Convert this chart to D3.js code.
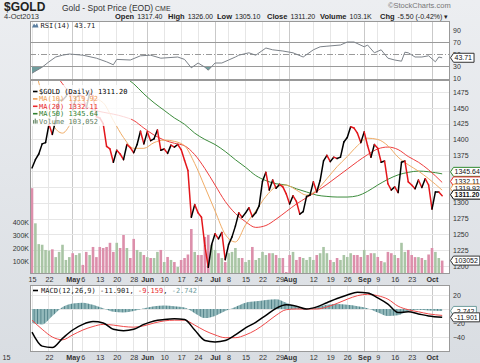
<!DOCTYPE html>
<html>
<head>
<meta charset="utf-8">
<script src="https://cdn.jsdelivr.net/npm/d3@7"></script>
<style>
  body { margin: 0; background: #e2e5e9; }
  svg text { font-family: "Liberation Sans", Arial, sans-serif; }
  .mono { font-family: "DejaVu Sans Mono", monospace; }
</style>
</head>
<body>
<svg id="chart"></svg>
<script>
// ---- data (trading-day index 0 = 15 Apr 2013 ... 121 = 4 Oct 2013) ----
const closes = [1355,1368,1377,1393,1395,1424,1408,1431,1462,1462,
  1468,1476,1447,1467,1470,1468,1449,1473,1469,1436,
  1434,1425,1389,1385,1364,1383,1377,1368,1392,1387,
  1379,1392,1413,1393,1412,1398,1401,1415,1383,1385,
  1378,1391,1388,1392,1384,1367,1351,1277,1297,1284,
  1277,1232,1198,1234,1251,1243,1253,1210,1234,1246,
  1263,1284,1277,1284,1292,1278,1284,1295,1334,1348,
  1320,1336,1323,1329,1325,1314,1298,1311,1302,1282,
  1286,1310,1312,1333,1317,1335,1366,1375,1365,1372,
  1370,1372,1396,1403,1420,1418,1410,1395,1412,1390,
  1372,1392,1386,1364,1366,1330,1320,1325,1316,1364,
  1366,1333,1328,1322,1336,1324,1338,1328,1290,1317,
  1317,1311.2];
// volume in thousands
const volumes = [660,390,230,225,185,180,190,130,170,225,
  108,130,160,146,160,70,170,146,208,130,
  208,200,208,240,170,240,200,300,200,123,
  270,185,170,146,130,123,123,170,185,92,
  131,108,92,54,108,123,150,346,170,146,
  146,285,300,223,185,160,123,92,160,170,
  200,123,123,92,108,208,108,123,170,146,
  160,160,146,123,123,15,146,170,108,131,
  123,108,131,108,146,160,208,160,108,92,
  123,108,146,131,160,146,146,131,185,146,
  160,160,131,100,90,170,160,146,123,240,
  170,185,146,130,130,123,108,150,200,170,
  123,103.052];

// smooth indicator series read at these day indices
const smp = [0,3,6,9,12,15,18,21,24,27,30,33,36,39,42,45,48,51,54,57,
  60,63,66,69,72,75,78,81,84,87,90,93,96,99,102,105,108,111,114,117,121];
const ma10 = [1535,1470,1425,1410,1430,1452,1465,1458,1430,1403,1386,1386,1395,1399,1397,1390,1362,1325,1287,1250,
  1238,1265,1287,1310,1325,1328,1320,1312,1320,1338,1357,1373,1390,1402,1400,1390,1372,1360,1350,1338,1319.92];
const ma20 = [1550,1532,1510,1488,1468,1455,1447,1443,1440,1436,1430,1418,1407,1399,1394,1390,1376,1354,1328,1302,
  1283,1270,1261,1264,1274,1286,1298,1308,1318,1329,1341,1353,1365,1376,1385,1388,1384,1373,1364,1352,1332.11];
const ma50 = [1590,1582,1575,1565,1555,1545,1534,1523,1512,1500,1488,1472,1458,1446,1434,1424,1410,1400,1392,1381,
  1368,1356,1343,1335,1330,1328,1322,1317,1312,1310,1309,1309,1311,1318,1328,1337,1344,1348,1350,1349,1345.64];
const macd = [-33,-53,-55,-42,-30,-22,-18,-20,-29,-31,-29,-22,-17,-15,-14,-15,-30,-45,-47,-45,
  -37,-27,-19,-9,1,6,4,0,3,9,15,20,24,23,16,7,-5,-4,-7,-10,-11.901];
const signal = [-16,-29,-40,-44,-37,-30,-25,-22,-23,-25,-26,-24,-20,-17,-16,-16,-23,-31,-37,-41,
  -41,-37,-30,-20,-9,-1,0,0,0,3,8,14,19,21,19,14,4,-1,-4,-7,-9.159];
const hist = [-20,-22,-10,3,8,9,6,1,-4,-5,-3,1,4,5,4,2,-6,-13,-10,-3,
  3,9,11,13,14,9,3,0,3,6,7,6,4,1,-5,-10,-9,-3,-1,-2,-2.742];

const rsiIdx = [0,3,5,7,9,11,15,19,22,24,25,29,32,35,38,43,45,47,49,51,
  52,54,56,58,60,61,64,66,69,71,74,77,80,83,85,87,91,93,95,98,
  99,101,103,105,107,109,110,111,113,115,117,119,120,121];
const rsi = [18,28,37,45,48,50,48,43,37,32,41,40,47,48,43,45,41,27,35,28,
  23,35,35,40,45,48,52,48,60,57,55,52,45,57,62,63,65,70,70,62,
  65,52,57,43,40,38,53,52,45,45,47,37,45,43.71];

const tickIdx = [0,5,12,15,20,25,30,34,39,44,49,54,58,63,68,73,76,83,88,93,98,102,107,112,118];
const tickText = ["15","22","May","6","13","20","28","Jun","10","17","24","Jul","8","15","22","29","Aug","12","19","26","Sep","9","16","23","Oct"];
const monthTicks = ["May","Jun","Jul","Aug","Sep","Oct"];
const priceTicks = [1200,1225,1250,1275,1300,1325,1350,1375,1400,1425,1450,1475];
const volTicks = [100,200,300,400];
const rsiTicks = [10,30,50,70,90];
const macdTicks = [20,0,-20,-40];

// ---- layout ----
const W = 480, H = 363;
const L = 30, R = 450;
const rsiTop = 21, rsiBot = 80, mainTop = 80, mainBot = 274, macdTop = 285, macdBot = 352;

const svg = d3.select('#chart').attr('width', W).attr('height', H);
const defs = svg.append('defs');

const bg = defs.append('linearGradient').attr('id', 'bg').attr('x1', 0).attr('y1', 0).attr('x2', 0).attr('y2', 1);
bg.append('stop').attr('offset', '0%').attr('stop-color', '#eceef1');
bg.append('stop').attr('offset', '100%').attr('stop-color', '#d9dde2');
svg.append('rect').attr('width', W).attr('height', H).attr('fill', 'url(#bg)');

const x = d3.scaleLinear().domain([0, 118]).range([32, 432]);
const yP = d3.scaleLinear().domain([1200, 1475]).range([266, 92]);
const yV = d3.scaleLinear().domain([0, 400]).range([mainBot, 222]);
const yR = d3.scaleLinear().domain([0, 100]).range([84, 24]);
const yM = d3.scaleLinear().domain([-40, 20]).range([337, 295]);

function clip(id, top, bot) {
  defs.append('clipPath').attr('id', id).append('rect')
    .attr('x', L).attr('y', top).attr('width', R - L).attr('height', bot - top);
}
clip('cRsi', rsiTop, rsiBot);
clip('cMain', mainTop, mainBot);
clip('cMacd', macdTop, macdBot);

function panelBg(top, bot) {
  svg.append('rect').attr('x', L).attr('y', top).attr('width', R - L).attr('height', bot - top)
    .attr('fill', '#fff');
}
panelBg(rsiTop, rsiBot);
panelBg(mainTop, mainBot);
panelBg(macdTop, macdBot);

function vGrid(top, bot) {
  svg.append('g').selectAll('line').data(tickIdx).join('line')
    .attr('x1', d => x(d)).attr('x2', d => x(d)).attr('y1', top).attr('y2', bot)
    .attr('stroke', (d, i) => monthTicks.includes(tickText[i]) ? '#c9c9c9' : '#e6e6e6')
    .attr('stroke-width', 1).attr('shape-rendering', 'crispEdges');
}
vGrid(rsiTop, rsiBot);
vGrid(mainTop, mainBot);
vGrid(macdTop, macdBot);

function hGrid(scale, vals, col) {
  svg.append('g').selectAll('line').data(vals).join('line')
    .attr('x1', L).attr('x2', R).attr('y1', d => Math.round(scale(d)) + 0.5).attr('y2', d => Math.round(scale(d)) + 0.5)
    .attr('stroke', col);
}
hGrid(yP, priceTicks, '#e6e6e6');
hGrid(yM, macdTicks, '#e6e6e6');

// ---- RSI panel ----
const gR = svg.append('g').attr('clip-path', 'url(#cRsi)');
const rsiPts = rsiIdx.map((d, i) => [d, rsi[i]]);
defs.append('clipPath').attr('id', 'cLow').append('rect').attr('x', L).attr('y', yR(30)).attr('width', R - L).attr('height', 30);
defs.append('clipPath').attr('id', 'cHigh').append('rect').attr('x', L).attr('y', 0).attr('width', R - L).attr('height', yR(70));
gR.append('path').datum(rsiPts).attr('clip-path', 'url(#cLow)')
  .attr('d', d3.area().x(d => x(d[0])).y0(yR(30)).y1(d => yR(d[1])))
  .attr('fill', '#6f9d9d');
gR.append('path').datum(rsiPts).attr('clip-path', 'url(#cHigh)')
  .attr('d', d3.area().x(d => x(d[0])).y0(yR(70)).y1(d => yR(d[1])))
  .attr('fill', '#6f9d9d');
[70, 30].forEach(v => gR.append('line').attr('x1', L).attr('x2', R)
  .attr('y1', Math.round(yR(v)) + 0.5).attr('y2', Math.round(yR(v)) + 0.5).attr('stroke', '#9a9a9a'));
gR.append('line').attr('x1', L).attr('x2', R).attr('y1', Math.round(yR(50)) + 0.5).attr('y2', Math.round(yR(50)) + 0.5)
  .attr('stroke', '#9a9a9a').attr('stroke-dasharray', '6,2,1,2');
gR.append('path').datum(rsiPts)
  .attr('d', d3.line().x(d => x(d[0])).y(d => yR(d[1])))
  .attr('fill', 'none').attr('stroke', '#7c8289').attr('stroke-width', 1);

// ---- main panel ----
const gM = svg.append('g').attr('clip-path', 'url(#cMain)');
gM.selectAll('rect.vol').data(volumes).join('rect')
  .attr('x', (d, i) => x(i) - 1.3).attr('width', 2.6)
  .attr('y', d => yV(d)).attr('height', d => mainBot - yV(d))
  .attr('fill', (d, i) => (i > 0 && closes[i] >= closes[i - 1]) ? '#a9c5a5' : '#dc8fab');

const smLine = arr => d3.line().curve(d3.curveMonotoneX).x((d, i) => x(smp[i])).y(d => yP(d))(arr);
gM.append('path').attr('d', smLine(ma50)).attr('fill', 'none').attr('stroke', '#3c8c3c').attr('stroke-width', 1);
gM.append('path').attr('d', smLine(ma20)).attr('fill', 'none').attr('stroke', '#ee3e3e').attr('stroke-width', 1);
gM.append('path').attr('d', smLine(ma10)).attr('fill', 'none').attr('stroke', '#f0ac66').attr('stroke-width', 1);

gM.selectAll('line.seg').data(d3.range(1, closes.length)).join('line')
  .attr('x1', i => x(i - 1)).attr('y1', i => yP(closes[i - 1]))
  .attr('x2', i => x(i)).attr('y2', i => yP(closes[i]))
  .attr('stroke', i => closes[i] >= closes[i - 1] ? '#000' : '#e3161b')
  .attr('stroke-width', 1.5).attr('stroke-linecap', 'round');

// legend in main panel
svg.append('rect').attr('x', 31).attr('y', 85).attr('width', 100).attr('height', 41)
  .attr('fill', '#fff').attr('opacity', 0.8);
const leg = [
  ['$GOLD (Daily) 1311.20', '#000'],
  ['MA(10) 1319.92', '#ef9f55'],
  ['MA(20) 1332.11', '#e8282c'],
  ['MA(50) 1345.64', '#2f7f2f'],
  ['Volume 103,052', '#5f7f5f']
];
leg.forEach((l, i) => {
  const yy = 94 + i * 7.4;
  if (i < 4) {
    svg.append('line').attr('x1', 33).attr('x2', 37.5).attr('y1', yy - 2.5).attr('y2', yy - 2.5)
      .attr('stroke', l[1]).attr('stroke-width', 1.6);
  } else {
    [0, 1.7, 3.4].forEach((o, k) => svg.append('rect').attr('x', 33 + o).attr('y', yy - 5 + (k === 1 ? 0 : 1.5))
      .attr('width', 1.2).attr('height', k === 1 ? 5 : 3.5).attr('fill', '#6f8f6f'));
  }
  svg.append('text').attr('class', 'mono').attr('x', 39).attr('y', yy).attr('font-size', 7)
    .attr('fill', l[1]).text(l[0]);
});

// RSI legend
svg.append('path').attr('d', 'M32,27.5 L34,23.5 L35.5,25.5 L37,23 L38.5,27.5 Z').attr('fill', '#5a7ea0');
svg.append('text').attr('class', 'mono').attr('x', 40.5).attr('y', 27.5).attr('font-size', 7).attr('fill', '#222')
  .text('RSI(14) 43.71');

// ---- MACD panel ----
const gC = svg.append('g').attr('clip-path', 'url(#cMacd)');
const stripeW = x(1) - x(0);
const pat = defs.append('pattern').attr('id', 'stripes').attr('patternUnits', 'userSpaceOnUse')
  .attr('x', x(0) - stripeW / 2).attr('y', 0).attr('width', stripeW).attr('height', 10);
pat.append('rect').attr('width', stripeW).attr('height', 10).attr('fill', '#93b9bb');
pat.append('rect').attr('width', 0.9).attr('height', 10).attr('fill', '#4f8087');
gC.append('path')
  .attr('d', d3.area().curve(d3.curveMonotoneX).x((d, i) => x(smp[i])).y0(yM(0)).y1(d => yM(d))(hist))
  .attr('fill', 'url(#stripes)');
const mLine = arr => d3.line().curve(d3.curveMonotoneX).x((d, i) => x(smp[i])).y(d => yM(d))(arr);
gC.append('path').attr('d', mLine(signal)).attr('fill', 'none').attr('stroke', '#ef4a4a').attr('stroke-width', 1);
gC.append('path').attr('d', mLine(macd)).attr('fill', 'none').attr('stroke', '#000').attr('stroke-width', 1.5);

svg.append('line').attr('x1', 33).attr('x2', 38).attr('y1', 290.5).attr('y2', 290.5).attr('stroke', '#000').attr('stroke-width', 1.6);
const mt = svg.append('text').attr('class', 'mono').attr('x', 41).attr('y', 293).attr('font-size', 7).attr('fill', '#222');
mt.append('tspan').text('MACD(12,26,9) -11.901, ');
mt.append('tspan').attr('fill', '#e8282c').text('-9.159');
mt.append('tspan').text(', ');
mt.append('tspan').attr('fill', '#6f9d9d').text('-2.742');

// panel borders
[[rsiTop, rsiBot], [mainTop, mainBot], [macdTop, macdBot]].forEach(p =>
  svg.append('rect').attr('x', L + 0.5).attr('y', p[0] + 0.5).attr('width', R - L - 1).attr('height', p[1] - p[0] - 1)
    .attr('fill', 'none').attr('stroke', '#999'));

// ---- axes ----
function styleAxis(g) {
  g.select('.domain').remove();
  g.selectAll('.tick line').remove();
  g.attr('font-family', '"Liberation Sans", Arial, sans-serif').attr('font-size', 7);
  g.selectAll('text').attr('fill', '#333');
}
const xAxis = d3.axisBottom(x).tickValues(tickIdx).tickSize(0).tickPadding(0)
  .tickFormat((d, i) => tickText[i]);
[mainBot + 3, macdBot + 2.5].forEach((yy, k) => {
  const g = svg.append('g').attr('transform', `translate(0,${yy})`).call(xAxis).call(styleAxis);
  g.selectAll('text').attr('dy', '0.71em').attr('font-size', 7.2)
    .attr('font-weight', (d, i) => monthTicks.includes(tickText[i]) ? 'bold' : null);
  // the first label of the lower axis sits out in the left margin
  if (k === 1) g.selectAll('text').filter((d, i) => i === 0).attr('dx', -26);
});

svg.append('g').attr('transform', `translate(${R + 2},0)`)
  .call(d3.axisRight(yP).tickValues(priceTicks).tickSize(0).tickPadding(1).tickFormat(d3.format('d'))).call(styleAxis);
svg.append('g').attr('transform', `translate(${R + 2},0)`)
  .call(d3.axisRight(yR).tickValues(rsiTicks).tickSize(0).tickPadding(1)).call(styleAxis);
svg.append('g').attr('transform', `translate(${R + 2},0)`)
  .call(d3.axisRight(yM).tickValues(macdTicks).tickSize(0).tickPadding(1)).call(styleAxis);
svg.append('g').attr('transform', `translate(${L - 1},0)`)
  .call(d3.axisLeft(yV).tickValues(volTicks).tickSize(0).tickPadding(0).tickFormat(d => d + 'K')).call(styleAxis);

// value tags on right axis
function tag(yy, txt, stroke, bold) {
  const g = svg.append('g').attr('transform', `translate(${R},${yy})`);
  const t = g.append('text').attr('x', 4.5).attr('y', 2.6).attr('font-size', 7)
    .attr('font-weight', bold ? 'bold' : null).attr('fill', '#111').text(txt);
  const w = t.node().getComputedTextLength() + 6.5;
  g.insert('path', 'text').attr('d', `M0.5,0 L3.5,-4.5 H${w} V4.5 H3.5 Z`)
    .attr('fill', '#fff').attr('stroke', stroke).attr('stroke-width', 1);
}
tag(yR(43.71), '43.71', '#333');
tag(yP(1345.64) - 2, '1345.64', '#2f8a2f');
tag(yP(1332.11) - 1, '1332.11', '#e8282c');
tag(yP(1319.92) - 1.5, '1319.92', '#f0a050');
tag(yP(1311.2) - 1, '1311.20', '#000', true);
tag(yV(103.052), '103052', '#333');
tag(yM(-2.742), '-2.742', '#6f9d9d');
tag(yM(-11.901), '-11.901', '#333');

// ---- header ----
svg.append('text').attr('x', 4).attr('y', 11).attr('font-size', 12).attr('font-weight', 'bold')
  .attr('fill', '#222').text('$GOLD');
svg.append('text').attr('x', 62).attr('y', 10.5).attr('font-size', 8.5).attr('fill', '#333')
  .text('Gold - Spot Price (EOD)');
svg.append('text').attr('x', 155).attr('y', 10.5).attr('font-size', 7).attr('fill', '#333').text('CME');
svg.append('text').attr('x', 4).attr('y', 18.5).attr('font-size', 7.5).attr('fill', '#333').text('4-Oct2013');
svg.append('text').attr('x', 388).attr('y', 8).attr('font-size', 7.5).attr('fill', '#777').text('\u00a9StockCharts.com');

const hdr = [
  [115, 'Open', '1317.40'], [168, 'High', '1326.00'], [217, 'Low', '1305.10'],
  [267, 'Close', '1311.20'], [320, 'Volume', '103.1K'], [380, 'Chg', '-5.50 (-0.42%) \u25be']
];
hdr.forEach(h => {
  const t = svg.append('text').attr('x', h[0]).attr('y', 18.5).attr('font-size', 7.5).attr('fill', '#222');
  t.append('tspan').attr('font-weight', 'bold').text(h[1]);
  t.append('tspan').attr('dx', 3).attr('font-size', 7).text(h[2]);
});
</script>
</body>
</html>
